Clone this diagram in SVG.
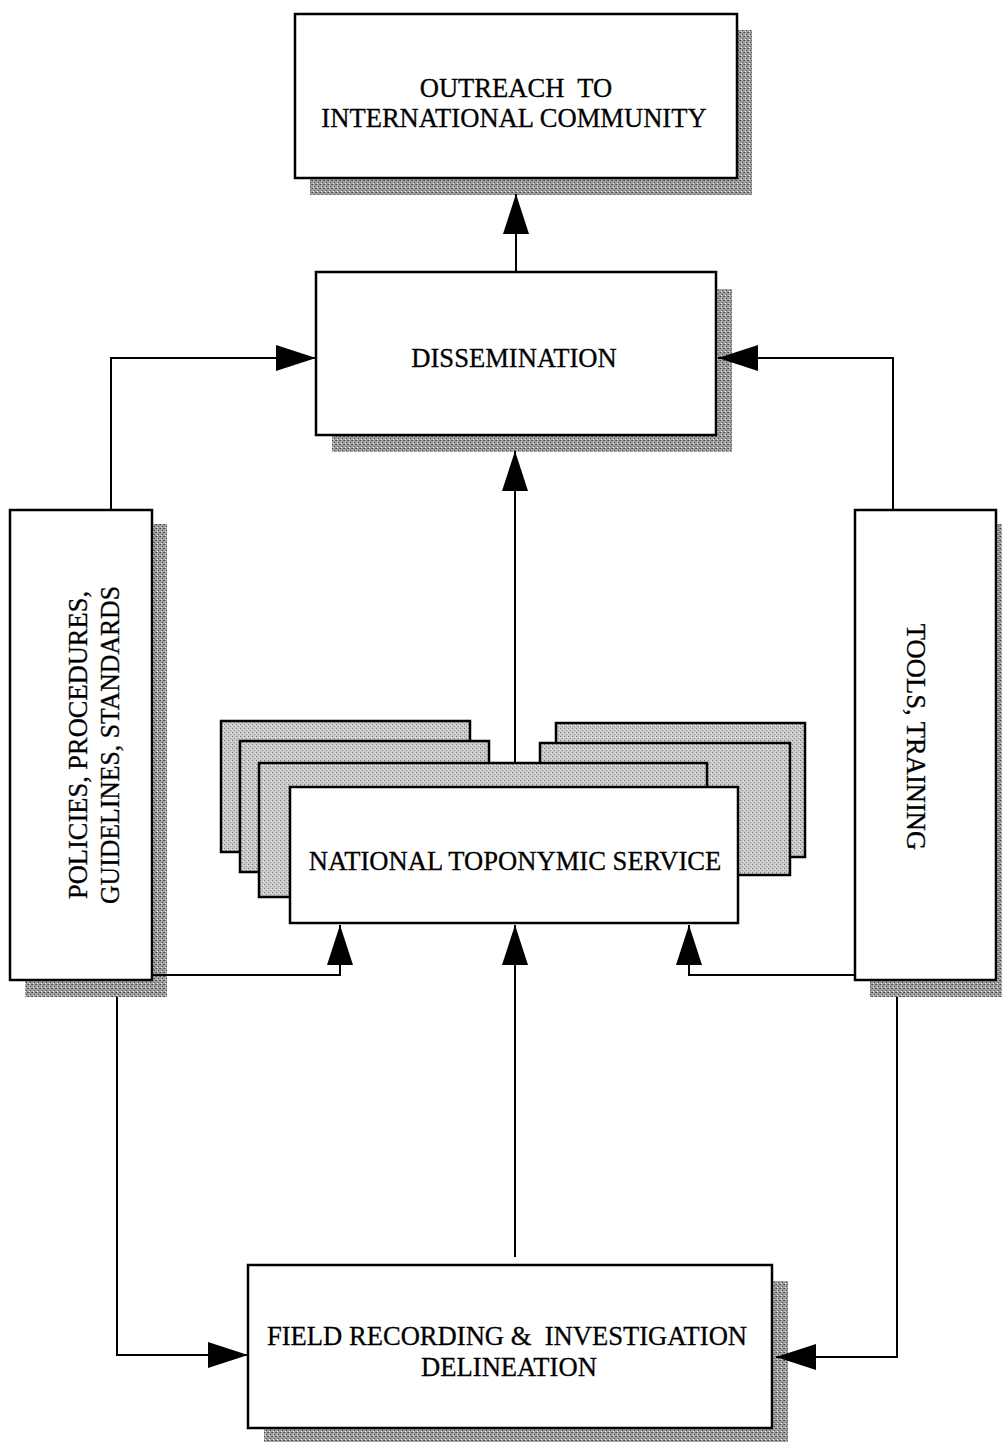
<svg xmlns="http://www.w3.org/2000/svg" width="1002" height="1442" viewBox="0 0 1002 1442">
<style>
.box{fill:#fff;stroke:#000;stroke-width:2.5}
.shadow{fill:url(#shade);stroke:none}
.card{fill:url(#cardfill);stroke:#000;stroke-width:2.5}
.lbl{font-family:"Liberation Serif","Times New Roman",serif;font-size:26.6px;fill:#000;stroke:#000;stroke-width:0.3;text-anchor:middle;white-space:pre}
.conn{fill:none;stroke:#000;stroke-width:2;marker-end:url(#arrow)}
</style>
<defs>
<pattern id="shade" width="4" height="4" patternUnits="userSpaceOnUse">
<rect width="4" height="4" fill="#a2a2a2"/>
<rect x="0" y="0" width="1" height="1" fill="#444"/>
<rect x="2" y="2" width="1" height="1" fill="#444"/>
<rect x="3" y="0" width="1" height="1" fill="#666"/>
<rect x="1" y="3" width="1" height="1" fill="#e6e6e6"/>
</pattern>
<pattern id="cardfill" width="4" height="4" patternUnits="userSpaceOnUse">
<rect width="4" height="4" fill="#cacaca"/>
<rect x="0" y="0" width="1" height="1" fill="#777"/>
<rect x="2" y="2" width="1" height="1" fill="#888"/>
<rect x="3" y="1" width="1" height="1" fill="#f0f0f0"/>
</pattern>
<marker id="arrow" markerUnits="userSpaceOnUse" viewBox="0 0 40 26" refX="40" refY="13" markerWidth="40" markerHeight="26" orient="auto">
<path d="M0,0 L40,13 L0,26 Z" fill="#000"/>
</marker>
</defs>

<g id="outreach">
<rect class="shadow" x="310" y="30" width="442" height="165"/>
<rect class="box" x="295" y="14" width="442" height="164"/>
<text class="lbl" x="516" y="97">OUTREACH  TO</text>
<text class="lbl" x="514" y="127">INTERNATIONAL COMMUNITY</text>
</g>

<g id="dissemination">
<rect class="shadow" x="332" y="289" width="400" height="163"/>
<rect class="box" x="316" y="272" width="400" height="163"/>
<text class="lbl" x="514" y="367">DISSEMINATION</text>
</g>

<g id="policies">
<rect class="shadow" x="25" y="524" width="142" height="473"/>
<rect class="box" x="10" y="510" width="142" height="470"/>
<text class="lbl" transform="translate(87,745) rotate(-90)" x="0" y="0" textLength="308" lengthAdjust="spacingAndGlyphs">POLICIES, PROCEDURES,</text>
<text class="lbl" transform="translate(119,745) rotate(-90)" x="0" y="0" textLength="318" lengthAdjust="spacingAndGlyphs">GUIDELINES, STANDARDS</text>
</g>

<g id="tools">
<rect class="shadow" x="870" y="524" width="142" height="473"/>
<rect class="box" x="855" y="510" width="141" height="470"/>
<text class="lbl" transform="translate(907,737) rotate(90)" x="0" y="0">TOOLS, TRAINING</text>
</g>

<g id="nts">
<rect class="card" x="221" y="721" width="249" height="131"/>
<rect class="card" x="556" y="723" width="249" height="134"/>
<rect class="card" x="240" y="741" width="249" height="131"/>
<rect class="card" x="540" y="743" width="250" height="132"/>
<rect class="card" x="259" y="763" width="448" height="134"/>
<rect class="box" x="290" y="787" width="448" height="136"/>
<text class="lbl" x="515" y="870">NATIONAL TOPONYMIC SERVICE</text>
</g>

<g id="field">
<rect class="shadow" x="264" y="1281" width="524" height="165"/>
<rect class="box" x="248" y="1265" width="524" height="163"/>
<text class="lbl" x="507" y="1345">FIELD RECORDING &amp;  INVESTIGATION</text>
<text class="lbl" x="509" y="1376">DELINEATION</text>
</g>

<g id="connectors">
<path class="conn" d="M516,272 L516,194"/>
<path class="conn" d="M111,510 L111,358 L316,358"/>
<path class="conn" d="M893,510 L893,358 L718,358"/>
<path class="conn" d="M515,763 L515,451"/>
<path class="conn" d="M152,975 L340,975 L340,925"/>
<path class="conn" d="M855,975 L689,975 L689,925"/>
<path class="conn" d="M515,1257 L515,925"/>
<path class="conn" d="M117,997 L117,1355 L248,1355"/>
<path class="conn" d="M897,997 L897,1357 L776,1357"/>
</g>
</svg>
